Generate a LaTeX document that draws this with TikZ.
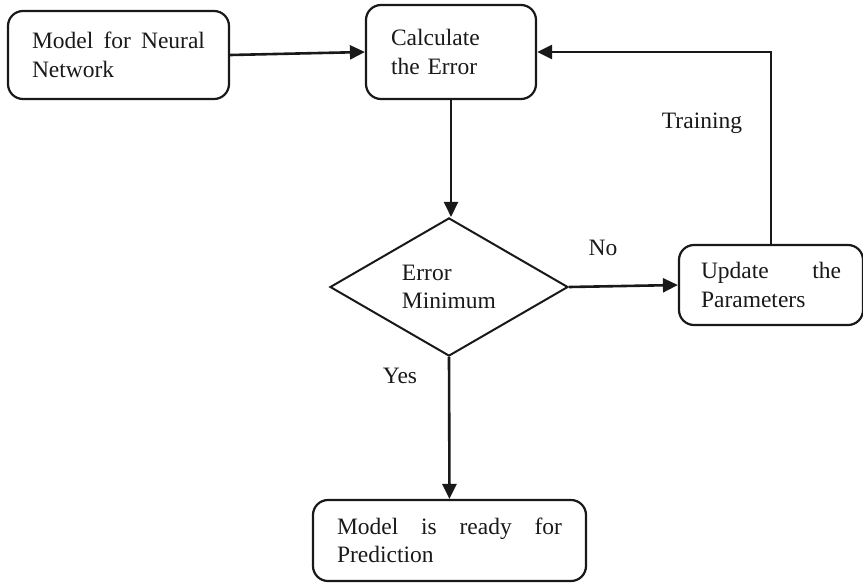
\documentclass[tikz,border=0pt]{standalone}
\usepackage{fontspec}
\setmainfont{Liberation Serif}
\usetikzlibrary{shapes.geometric,arrows.meta}
\hyphenpenalty=10000
\exhyphenpenalty=10000
\begin{document}
\begin{tikzpicture}[x=1pt,y=-1pt,
  txt/.style={font=\fontsize{23.5}{28.5}\selectfont, text=black!90},
  box/.style={txt, draw=black!90, line width=2.2pt, rounded corners=15pt, align=justify, inner sep=0pt},
  dec/.style={txt, draw=black!90, line width=2pt, shape=diamond, align=left, inner sep=0pt},
  conn/.style={draw=black!90, line width=2.6pt, -{Triangle[length=15pt,width=14pt]}}
]
\useasboundingbox (0,0) rectangle (863,582);

\node[box, minimum width=221pt, minimum height=88pt, text width=173pt] (model) at (118.5,55) {Model for Neural Network};
\node[box, minimum width=170pt, minimum height=94pt, text width=120pt, align=left] (calc) at (451,52) {Calculate\\the Error\\[4pt]};
\node[dec, minimum width=238pt, minimum height=128pt] (dia) at (449,287) {Error\\Minimum};
\node[box, minimum width=184pt, minimum height=80pt, text width=140pt] (upd) at (771,285) {Update the Parameters};
\node[box, minimum width=273pt, minimum height=81pt, text width=225pt] (fin) at (449.5,540.5) {Model is ready for Prediction};

\node[txt] (no) at (603,248) {No};
\node[txt] (yes) at (400,376) {Yes};
\node[txt] (train) at (702,123) {Training};

\draw[conn] (model.east) -- (calc.west);
\draw[conn] (calc.south) -- (calc.south |- dia.north);
\draw[conn] (dia.east) -- (upd.west);
\draw[conn] (upd.north) |- (calc.east);
\draw[conn] (dia.south) -- (fin.north);
\end{tikzpicture}
\end{document}
